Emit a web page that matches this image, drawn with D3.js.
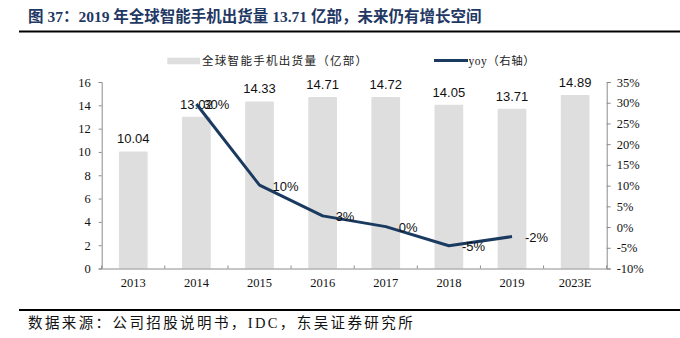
<!DOCTYPE html>
<html>
<head>
<meta charset="utf-8">
<script src="https://cdn.jsdelivr.net/npm/d3@7"></script>
<style>
  body { margin: 0; background: #fff; }
  svg { display: block; }
</style>
</head>
<body>
<div id="chart"></div>
<script>
// data
const years = ['2013', '2014', '2015', '2016', '2017', '2018', '2019', '2023E'];
const shipments = [10.04, 13.02, 14.33, 14.71, 14.72, 14.05, 13.71, 14.89];
const yoyYears = ['2014', '2015', '2016', '2017', '2018', '2019'];
const yoy = [29.7, 10.1, 2.7, 0.1, -4.5, -2.3];
const yoyLabels = ['30%', '10%', '3%', '0%', '-5%', '-2%'];
const leftTicks = [0, 2, 4, 6, 8, 10, 12, 14, 16];
const rightTicks = [-10, -5, 0, 5, 10, 15, 20, 25, 30, 35];

const serif = '"Liberation Serif", "Times New Roman", "Noto Sans CJK SC", serif';
const sans = '"Liberation Sans", Arial, sans-serif';
const navy = '#1b3a60';

const svg = d3.select('#chart')
  .append('svg')
  .attr('width', 680)
  .attr('height', 338);

// title
svg.append('text')
  .attr('x', 28)
  .attr('y', 22)
  .attr('font-family', serif)
  .attr('font-weight', 'bold')
  .attr('font-size', 15.5)
  .attr('fill', '#1f3864')
  .text('图 37：2019 年全球智能手机出货量 13.71 亿部，未来仍有增长空间');

svg.append('line')
  .attr('x1', 19).attr('x2', 680)
  .attr('y1', 31.5).attr('y2', 31.5)
  .attr('stroke', '#000')
  .attr('stroke-width', 2);

// scales
const x = d3.scaleBand()
  .domain(years)
  .range([101.7, 606.7])
  .paddingInner(0.545)
  .paddingOuter(0.2725);

const yL = d3.scaleLinear().domain([0, 16]).range([268.5, 82]);
const yR = d3.scaleLinear().domain([-10, 35]).range([268.5, 82]);

// bars
svg.append('g')
  .selectAll('rect')
  .data(shipments)
  .join('rect')
  .attr('x', (d, i) => x(years[i]))
  .attr('y', (d) => yL(d))
  .attr('width', x.bandwidth())
  .attr('height', (d) => yL(0) - yL(d))
  .attr('rx', 1)
  .attr('fill', '#dedede');

svg.append('g')
  .selectAll('text')
  .data(shipments)
  .join('text')
  .attr('x', (d, i) => x(years[i]) + x.bandwidth() / 2)
  .attr('y', (d) => yL(d) - 8)
  .attr('text-anchor', 'middle')
  .attr('font-family', sans)
  .attr('font-size', 13)
  .attr('fill', '#111')
  .text((d) => d.toFixed(2));

// axes
const axisColor = '#8c8c8c';

const leftAxis = svg.append('g')
  .attr('transform', 'translate(101.7,0)')
  .call(d3.axisLeft(yL).tickValues(leftTicks).tickSize(3).tickPadding(8));

const rightAxis = svg.append('g')
  .attr('transform', 'translate(606.7,0)')
  .call(d3.axisRight(yR).tickValues(rightTicks).tickSize(4).tickPadding(6)
    .tickFormat((d) => `${d}%`));

const bottomAxis = svg.append('g')
  .attr('transform', `translate(0,${yL(0)})`)
  .call(d3.axisBottom(x).tickSize(0).tickPadding(10));

[leftAxis, rightAxis, bottomAxis].forEach((g) => {
  g.selectAll('path').attr('stroke', axisColor);
  g.selectAll('line').attr('stroke', axisColor);
  g.selectAll('text')
    .attr('font-family', serif)
    .attr('font-size', 12.5)
    .attr('fill', '#111');
});

// category boundary ticks (pointing up)
svg.append('g')
  .selectAll('line')
  .data(d3.range(years.length + 1))
  .join('line')
  .attr('x1', (i) => x.range()[0] + i * x.step())
  .attr('x2', (i) => x.range()[0] + i * x.step())
  .attr('y1', yL(0))
  .attr('y2', yL(0) - 3)
  .attr('stroke', axisColor);

// yoy line
const cx = (yr) => x(yr) + x.bandwidth() / 2;

svg.append('path')
  .datum(yoy)
  .attr('fill', 'none')
  .attr('stroke', navy)
  .attr('stroke-width', 3)
  .attr('stroke-linejoin', 'round')
  .attr('d', d3.line()
    .x((d, i) => cx(yoyYears[i]))
    .y((d) => yR(d)));

svg.append('g')
  .selectAll('text')
  .data(yoy)
  .join('text')
  .attr('x', (d, i) => cx(yoyYears[i]) + (i === 0 ? 7 : 13))
  .attr('y', (d) => yR(d) + 1)
  .attr('dominant-baseline', 'central')
  .attr('font-family', sans)
  .attr('font-size', 13)
  .attr('fill', '#111')
  .text((d, i) => yoyLabels[i]);

// legend
const legend = svg.append('g')
  .attr('font-family', serif)
  .attr('font-size', 11.5)
  .attr('fill', '#222');

legend.append('rect')
  .attr('x', 167.3).attr('y', 57.7)
  .attr('width', 32.7).attr('height', 6.6)
  .attr('fill', '#dedede');

legend.append('text')
  .attr('x', 202).attr('y', 61)
  .attr('dominant-baseline', 'central')
  .attr('letter-spacing', 1.3)
  .text('全球智能手机出货量（亿部）');

legend.append('line')
  .attr('x1', 434).attr('x2', 468)
  .attr('y1', 60.5).attr('y2', 60.5)
  .attr('stroke', navy)
  .attr('stroke-width', 3);

legend.append('text')
  .attr('x', 468.5).attr('y', 61)
  .attr('dominant-baseline', 'central')
  .attr('letter-spacing', 0.5)
  .text('yoy（右轴）');

// footer
svg.append('line')
  .attr('x1', 19).attr('x2', 680)
  .attr('y1', 310).attr('y2', 310)
  .attr('stroke', '#000')
  .attr('stroke-width', 2);

svg.append('text')
  .attr('x', 28)
  .attr('y', 328)
  .attr('font-family', serif)
  .attr('font-size', 14.5)
  .attr('letter-spacing', 2.4)
  .attr('fill', '#111')
  .text('数据来源：公司招股说明书，IDC，东吴证券研究所');
</script>
</body>
</html>
